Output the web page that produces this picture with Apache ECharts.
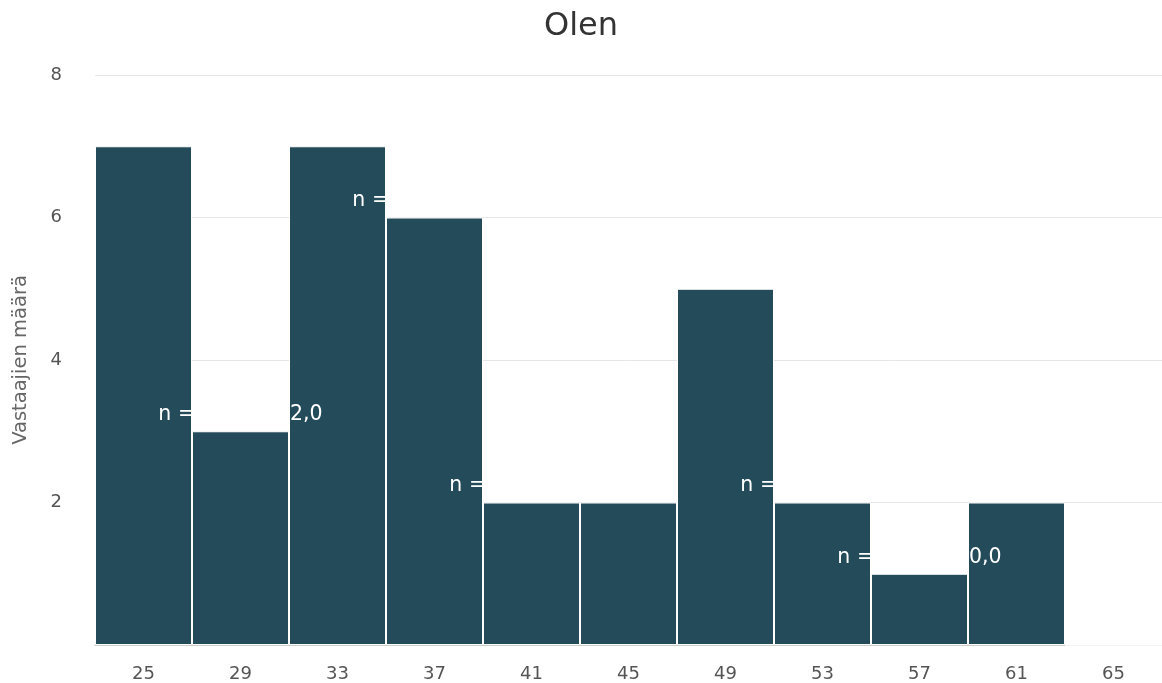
<!DOCTYPE html>
<html>
<head>
<meta charset="utf-8">
<script src="https://cdn.jsdelivr.net/npm/echarts@6/dist/echarts.min.js"></script>
<style>
  html, body { margin: 0; padding: 0; background: #fff; }
  #chart { width: 1162px; height: 683px; }
</style>
</head>
<body>
<div id="chart"></div>
<script>
// Age bins (lower edge of each 4-year bin)
const categories = ['25', '29', '33', '37', '41', '45', '49', '53', '57', '61', '65'];
// Respondents per bin
const counts = [7, 3, 7, 6, 2, 2, 5, 2, 1, 2, 0];
// Mean age within each bin (null = no label drawn)
const means = ['27,1', '32,0', '35,0', '39,0', '41,0', null, '51,0', '55,0', '60,0', '63,0', null];
// Value axis ticks
const yTicks = [0, 2, 4, 6, 8];

const FONT = 'DejaVu Sans';

const chart = echarts.init(document.getElementById('chart'), null, { renderer: 'canvas' });

chart.setOption({
  animation: false,
  backgroundColor: '#ffffff',
  title: {
    text: 'Olen',
    left: 'center',
    top: 6,
    textStyle: { fontFamily: FONT, fontSize: 32, fontWeight: 'normal', color: '#333333' }
  },
  grid: { left: 95, right: 0, top: 75, bottom: 38, containLabel: false, outerBoundsMode: 'none' },
  xAxis: {
    type: 'category',
    data: categories,
    axisLine: { lineStyle: { color: '#cccccc' } },
    axisTick: { show: false },
    axisLabel: { margin: 20, fontFamily: FONT, fontSize: 18, color: '#555555' }
  },
  yAxis: {
    type: 'value',
    min: yTicks[0],
    max: yTicks[yTicks.length - 1],
    interval: yTicks[1] - yTicks[0],
    name: 'Vastaajien määrä',
    nameLocation: 'middle',
    nameRotate: 90,
    nameGap: 64,
    nameTextStyle: { fontFamily: FONT, fontSize: 19.5, color: '#666666' },
    axisLine: { show: false },
    axisTick: { show: false },
    splitLine: { lineStyle: { color: '#e6e6e6' } },
    axisLabel: {
      margin: 33,
      fontFamily: FONT,
      fontSize: 18,
      color: '#555555',
      formatter: v => (v === 0 ? '' : String(v))
    }
  },
  series: [{
    type: 'bar',
    barCategoryGap: '0%',
    data: counts.map((c, i) => ({
      value: c,
      label: {
        show: means[i] !== null,
        formatter: 'n = ' + c + ' Ka = ' + means[i]
      }
    })),
    itemStyle: { color: '#244b5a', borderColor: '#ffffff', borderWidth: 1 },
    label: {
      position: 'top',
      distance: 6,
      color: '#ffffff',
      fontFamily: FONT,
      fontSize: 20.5
    }
  }]
});
</script>
</body>
</html>
